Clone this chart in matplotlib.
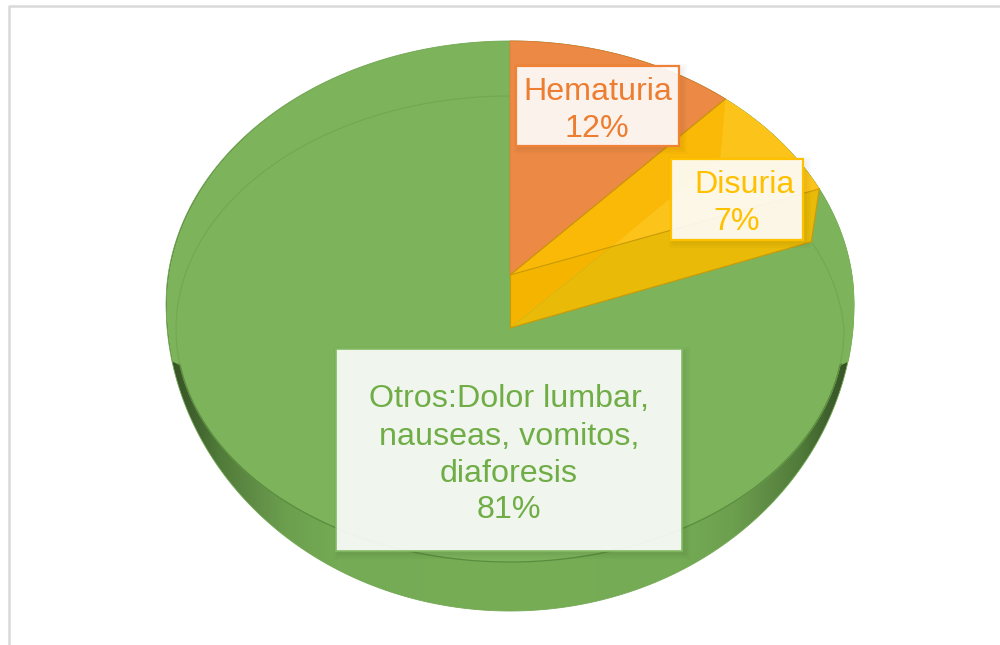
import matplotlib
matplotlib.use('Agg')
import matplotlib.pyplot as plt
import matplotlib.patches as patches
import numpy as np

# slice values, clockwise from 12 o'clock
labels = ['Hematuria', 'Disuria', 'Otros:Dolor lumbar,\nnauseas, vomitos,\ndiaforesis']
values = [12, 7, 81]

plt.rcParams['font.family'] = ['Liberation Sans', 'DejaVu Sans']

# disc geometry, in pixels of the 1000x645 canvas
CX = 510
OUTER_A = 344
OUTER_Y = 304
OUTER_TOP = 263
OUTER_BOTTOM = 307
RIM_A = 334
RIM_B = 233
RIM_Y = 329
APEX_Y = 275
SLICE_B = 234
DROP_X = -8
DROP_Y = 53

ORANGE = '#EC8A45'
ORANGE_EDGE = '#E07A30'
YELLOW = '#FAB907'
YELLOW_LIGHT = '#FCC41A'
YELLOW_EDGE = '#C99A05'
GREEN = '#7CB35B'
GREEN_LINE = '#72A852'
GREEN_DARK = '#5B8C3F'


def slice_point(pct, r=1.0):
    """Point on the raised slices, pct being the cumulated percentage.
    The x scale shrinks towards the back of the disc."""
    t = np.radians(pct * 3.6)
    x = CX + r * np.sin(t) * 351 * (1 - 0.142 * np.cos(t))
    y = APEX_Y - r * np.cos(t) * SLICE_B
    return x, y


def silhouette_low(x):
    d = np.clip((x - CX) / OUTER_A, -1, 1)
    return OUTER_Y + OUTER_BOTTOM * np.sqrt(1 - d ** 2)


def silhouette_up(x):
    d = np.clip((x - CX) / OUTER_A, -1, 1)
    return OUTER_Y - OUTER_TOP * np.sqrt(1 - d ** 2)


def slice_polygon(start, end):
    """Sector between two cumulated percentages, its arc lying on the disc outline."""
    pcts = np.linspace(start, end, 40)
    xs, _ = slice_point(pcts)
    return np.vstack([[CX, APEX_Y], np.column_stack([xs, silhouette_up(xs)])])


def rim_low(x):
    # front edge of the top face, closing onto the silhouette at both ends
    dx = np.abs(x - CX)
    y = RIM_Y + RIM_B * np.sqrt(np.clip(1 - (dx / RIM_A) ** 2, 0, 1))
    y_end = RIM_Y + RIM_B * np.sqrt(1 - (330 / RIM_A) ** 2)
    side = np.interp(dx, [330, 338], [y_end, silhouette_low(np.array(CX + 338.0))])
    return np.where(dx <= 330, y, np.where(dx <= 338, side, silhouette_low(x)))


def wall_shade():
    """Horizontal shading of the disc's side, dark at both ends."""
    xs = np.arange(CX - OUTER_A, CX + OUTER_A + 1)
    d = np.abs(xs - CX) / OUTER_A
    stops = [0, 0.5, 0.65, 0.75, 0.85, 0.93, 1]
    reds = [0x76, 0x74, 0x6C, 0x5F, 0x4F, 0x3F, 0x35]
    greens = [0xAD, 0xAB, 0x9F, 0x8C, 0x7A, 0x5F, 0x50]
    blues = [0x55, 0x54, 0x4E, 0x45, 0x38, 0x2D, 0x24]
    shade = np.column_stack([np.interp(d, stops, c) for c in (reds, greens, blues)]) / 255
    return shade[np.newaxis, :, :]


def label_box(ax, x0, y0, x1, y1, edge, alpha=0.9, lw=1.6):
    # soft shadow first, then the box
    for grow in [5, 3, 1]:
        ax.add_patch(patches.Rectangle((x0 + 3 - grow, y0 + 3 - grow),
                                       x1 - x0 + 2 * grow, y1 - y0 + 2 * grow,
                                       facecolor='black', edgecolor='none',
                                       alpha=0.02, zorder=5))
    ax.add_patch(patches.Rectangle((x0, y0), x1 - x0, y1 - y0, facecolor='white',
                                   edgecolor='none', alpha=alpha, zorder=6))
    ax.add_patch(patches.Rectangle((x0, y0), x1 - x0, y1 - y0, facecolor='none',
                                   edgecolor=edge, linewidth=lw, zorder=7))


fig = plt.figure(figsize=(10, 6.45), dpi=100)
ax = fig.add_axes([0, 0, 1, 1])
ax.set_xlim(0, 1000)
ax.set_ylim(645, 0)
ax.axis('off')

# frame of the chart area, open on the right and at the bottom
ax.plot([9, 9, 1000], [645, 6, 6], color='#D9D9D9', linewidth=1.8, zorder=1)

xs = np.linspace(CX - OUTER_A, CX + OUTER_A, 1400)

# side of the disc
outline = np.vstack([np.column_stack([xs, silhouette_up(xs)]),
                     np.column_stack([xs[::-1], silhouette_low(xs[::-1])])])
body = patches.Polygon(outline, closed=True, facecolor='none', edgecolor='#74A955',
                       linewidth=0.6, zorder=3)
ax.add_patch(body)
im = ax.imshow(wall_shade(), extent=(CX - OUTER_A, CX + OUTER_A, 645, 0),
               aspect='auto', zorder=2, interpolation='bilinear')
im.set_clip_path(body)
ax.set_xlim(0, 1000)
ax.set_ylim(645, 0)

# top face
ax.fill_between(xs, silhouette_up(xs), rim_low(xs), color=GREEN, linewidth=0, zorder=3)

cum = np.cumsum(values)
end_orange = cum[0]
end_yellow = cum[1]

# rim of the green slice, faint on the top face and darker along the front
t_start = end_yellow * 3.6
t = np.linspace(t_start, 172, 200)
lean = DROP_X * np.clip((90 - t) / (90 - t_start), 0, 1)
ax.plot(CX + RIM_A * np.sin(np.radians(t)) + lean, RIM_Y - RIM_B * np.cos(np.radians(t)),
        color=GREEN_LINE, linewidth=0.8, zorder=4)
t = np.radians(np.linspace(188, 360, 200))
ax.plot(CX + RIM_A * np.sin(t), RIM_Y - RIM_B * np.cos(t),
        color=GREEN_LINE, linewidth=0.8, zorder=4)
front = xs[np.abs(xs - CX) <= 332]
ax.plot(front, rim_low(front), color=GREEN_DARK, linewidth=0.9, zorder=4)

# exposed side of the yellow slice
apex = np.array([CX, APEX_Y])
yellow_tip = slice_polygon(end_orange, end_yellow)[-1]
orange_tip = slice_polygon(0, end_orange)[-1]
corner = yellow_tip + [DROP_X, DROP_Y]
mid = apex + 0.33 * (yellow_tip - apex)
ax.add_patch(patches.Polygon([apex, mid, apex + [0, DROP_Y]], closed=True,
                             facecolor='#F5B400', edgecolor='none', zorder=4))
ax.add_patch(patches.Polygon([mid, yellow_tip, corner, apex + [0, DROP_Y]],
                             closed=True, facecolor='#E9BA08', edgecolor='none', zorder=4))
ax.plot([CX, corner[0], yellow_tip[0]], [APEX_Y + DROP_Y, corner[1], yellow_tip[1]],
        color=YELLOW_EDGE, linewidth=0.8, zorder=4)
ax.plot([CX, CX], [APEX_Y, APEX_Y + DROP_Y], color=YELLOW_EDGE, linewidth=0.8, zorder=4)

# yellow slice, its lighter facet on top
ax.add_patch(patches.Polygon(slice_polygon(end_orange, end_yellow), closed=True,
                             facecolor=YELLOW, edgecolor='none', zorder=4))
knee = np.array(slice_point(end_orange + 0.36 * values[1], 0.83))
arc = slice_polygon(end_orange, end_yellow)[1:]
ax.add_patch(patches.Polygon(np.vstack([knee, arc, mid]), closed=True,
                             facecolor=YELLOW_LIGHT, edgecolor='none', zorder=4))
ax.add_patch(patches.Polygon([knee, mid, apex, orange_tip], closed=True,
                             facecolor=YELLOW, edgecolor='none', zorder=4))
ax.plot([CX, yellow_tip[0]], [APEX_Y, yellow_tip[1]], color=YELLOW_EDGE, linewidth=0.8, zorder=4)

# orange slice
ax.add_patch(patches.Polygon(slice_polygon(0, end_orange), closed=True, facecolor=ORANGE,
                             edgecolor=ORANGE_EDGE, linewidth=0.6, zorder=4))
ax.plot([CX, orange_tip[0]], [APEX_Y, orange_tip[1]], color=YELLOW_EDGE, linewidth=0.8, zorder=4)

# data labels
TEXT_ORANGE = '#ED7D31'
TEXT_YELLOW = '#FFC000'
TEXT_GREEN = '#70AD47'
LABEL_SIZE = 23.2

label_box(ax, 516, 66, 679, 146, '#F08238')
ax.text(598, 92, labels[0], color=TEXT_ORANGE, fontsize=LABEL_SIZE, ha='center', va='center', zorder=8)
ax.text(597, 129, '%d%%' % values[0], color=TEXT_ORANGE, fontsize=LABEL_SIZE, ha='center', va='center', zorder=8)

label_box(ax, 671, 159, 803, 240, TEXT_YELLOW)
ax.text(745, 185, labels[1], color=TEXT_YELLOW, fontsize=LABEL_SIZE, ha='center', va='center', zorder=8)
ax.text(737, 222, '%d%%' % values[1], color=TEXT_YELLOW, fontsize=LABEL_SIZE, ha='center', va='center', zorder=8)

label_box(ax, 336, 349, 682, 551, '#83BB63', lw=1.2)
line_ys = [399, 437, 474]
for line, y in zip(labels[2].split('\n'), line_ys):
    ax.text(509, y, line, color=TEXT_GREEN, fontsize=LABEL_SIZE, ha='center', va='center', zorder=8)
ax.text(509, 510, '%d%%' % values[2], color=TEXT_GREEN, fontsize=LABEL_SIZE, ha='center', va='center', zorder=8)

fig.savefig('out.png', dpi=100)
plt.close(fig)
